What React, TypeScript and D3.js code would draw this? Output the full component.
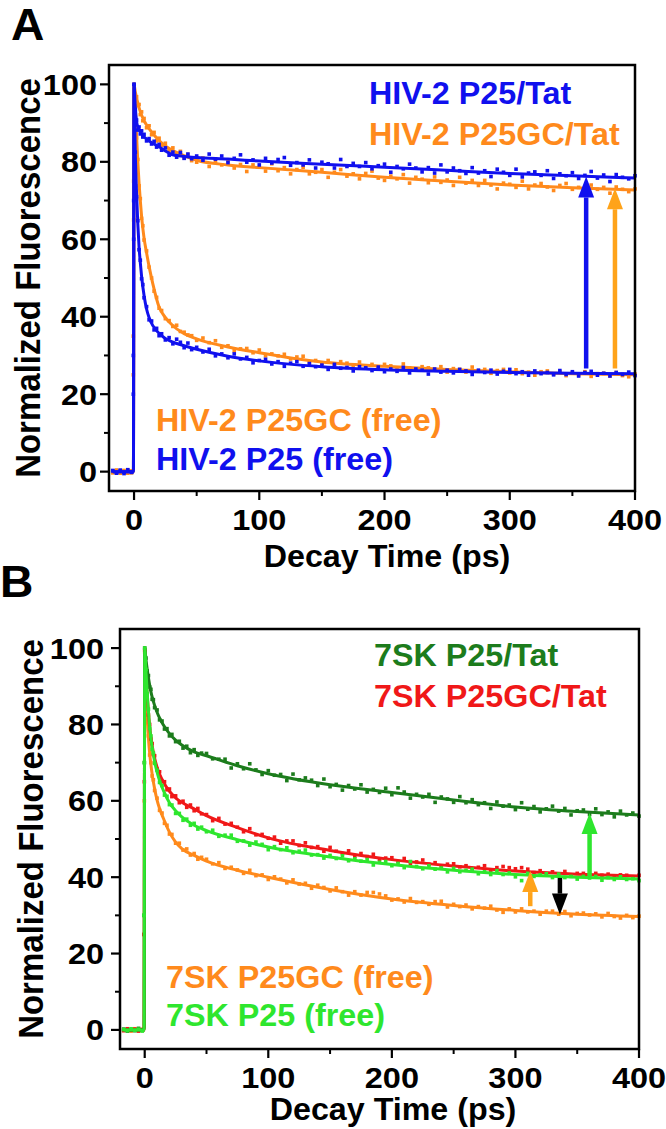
import React from 'react';
import * as d3 from 'd3';

// ---------- shared time grid of the measured points (ps) ----------
const T = [-17, -14, -11, -8, -5, -2, -0.6, -0.3, 0, 1, 2, 3, 4, 5, 6, 7, 8, 10, 12, 14, 16, 18, 20, 22, 25, 28, 31, 34, 37, 40, 43, 46,
  50, 55, 60, 65, 70, 75, 80, 85, 90, 95, 100, 105, 110, 115, 120, 125, 130, 135, 140, 145, 150, 155, 160, 165, 170, 175, 180, 185, 190, 195,
  200, 205, 210, 215, 220, 225, 230, 235, 240, 245, 250, 255, 260, 265, 270, 275, 280, 285, 290, 295, 300, 305, 310, 315, 320, 325, 330, 335,
  340, 345, 350, 355, 360, 365, 370, 375, 380, 385, 390, 395, 400];

// ---------- fit curve time grid ----------
const fitT = [-17, -0.5, 0, 1, 2, 3, 4, 5, 6, 8, 10, 12, 15, 20, 25, 30, 40, 50, 75, 100, 150, 200, 250, 300, 350, 400];

// ---------- panel A: HIV-2 ----------
const hivP25TatPts = [0.3, -0.4, 0.2, -0.2, 0.5, -0.1, 30, 70, 100,
  93.5, 90.8, 88.2, 89.0, 87.2, 88.0, 86.4, 87.1, 85.4, 86.0, 84.6, 85.3, 83.8, 84.5, 83.0, 83.6, 81.7, 82.5, 81.2, 82.4, 80.9, 82.0, 80.8,
  81.5, 80.4, 82.0, 80.7, 81.5, 79.8, 80.9, 81.8, 79.9, 80.5, 79.2, 80.9, 79.7, 80.6, 81.1, 79.1, 79.8, 79.2, 80.5, 78.4,
  79.9, 79.5, 78.4, 80.6, 78.8, 79.6, 78.8, 79.8, 78.2, 79.0, 79.4, 77.3, 78.8, 78.2, 79.4, 78.4, 77.4, 78.5, 77.1, 79.2,
  77.4, 78.4, 77.7, 77.0, 78.5, 77.1, 77.7, 76.2, 78.1, 77.3, 76.5, 78.1, 76.1, 77.1, 77.4, 76.5, 77.7, 75.7, 76.9, 76.4,
  77.2, 75.7, 76.5, 77.5, 75.8, 76.6, 74.9, 76.7, 76.0, 75.6, 76.4];
const hivP25GCTatPts = [-0.3, 0.4, -0.1, 0.3, -0.4, 0.2, 25, 65, 99,
  97.2, 96.8, 94.5, 94.8, 92.2, 92.9, 90.6, 91.2, 88.8, 89.3, 87.0, 87.6, 85.4, 86.1, 84.2, 84.8, 82.9, 83.6, 81.8, 82.7, 81.0, 81.9, 80.3,
  79.9, 81.0, 78.8, 80.0, 79.2, 80.2, 78.4, 79.3, 77.5, 79.2, 78.6, 77.6, 79.5, 77.7, 78.5, 76.9, 78.0, 78.6, 76.9, 77.3,
  78.0, 76.0, 77.3, 78.0, 76.3, 76.9, 75.6, 77.0, 77.6, 75.8, 75.2, 76.3, 75.6, 76.7, 74.5, 76.0, 75.5, 74.6, 76.1, 74.7,
  75.3, 73.9, 76.0, 74.5, 75.2, 73.9, 75.2, 74.0, 73.0, 74.5, 74.2, 73.4, 75.0, 73.0, 74.0, 74.4, 73.5, 72.6, 73.9, 74.4,
  72.9, 73.4, 72.5, 74.0, 72.9, 73.4, 71.9, 73.5, 72.9, 72.3, 73.0];
const hivP25FreePts = [0.2, -0.3, 0.4, -0.5, 0.1, -0.2, 20, 60, 100,
  82.5, 71.0, 64.8, 57.3, 54.6, 49.8, 48.3, 44.9, 42.6, 39.2, 38.9, 36.6, 37.0, 35.1, 35.6, 34.0, 34.6, 33.0, 34.2, 33.4, 32.0, 33.2, 31.5,
  32.1, 30.9, 31.6, 29.9, 30.4, 29.4, 30.4, 29.1, 29.5, 28.1, 28.7, 29.0, 27.8, 28.4, 27.2, 28.0, 28.4, 27.2, 27.9, 27.1,
  27.5, 26.4, 27.7, 26.7, 26.9, 26.0, 27.1, 26.8, 26.1, 27.0, 25.8, 26.5, 25.9, 26.9, 25.5, 26.5, 26.2, 25.2, 26.5, 25.7,
  26.2, 25.5, 26.4, 26.0, 25.1, 26.2, 25.6, 26.2, 25.2, 25.9, 26.4, 25.3, 25.8, 24.9, 26.0, 25.3, 25.6, 25.0, 26.1, 25.1,
  25.8, 24.7, 25.6, 25.9, 24.9, 25.4, 24.7, 25.6, 25.1, 25.7, 24.8];
const hivP25GCFreePts = [-0.2, 0.3, -0.4, 0.1, 0.4, -0.3, 35, 75, 100,
  94.5, 86.2, 80.6, 73.8, 70.5, 65.4, 63.5, 59.8, 57.0, 52.8, 50.0, 46.6, 45.0, 42.2, 41.6, 39.5, 39.0, 37.5, 37.8, 36.2, 36.0, 35.3, 35.1,
  33.9, 34.5, 33.3, 33.8, 32.1, 32.5, 31.2, 31.7, 31.8, 30.7, 31.4, 29.9, 30.4, 29.9, 30.3, 29.1, 29.6, 29.8, 28.2, 28.7,
  28.0, 28.7, 27.3, 28.4, 28.0, 27.3, 28.3, 27.3, 27.7, 26.7, 27.7, 27.3, 26.6, 27.8, 26.8, 26.2, 27.1, 26.8, 26.3, 27.1,
  25.7, 26.6, 26.4, 25.7, 27.0, 25.9, 26.4, 25.4, 26.1, 26.4, 25.5, 26.3, 25.3, 25.7, 24.9, 25.8, 26.0, 25.2, 25.8, 24.8,
  25.5, 25.0, 25.8, 24.6, 25.3, 25.4, 24.7, 25.6, 24.8, 24.5, 25.2];

const hivP25TatFit = [0, 0, 100, 94, 90.5, 89, 88.3, 87.8, 87.3, 86.5, 85.9, 85.4, 84.8, 83.9, 82.8, 81.9, 81.4, 81.1, 80.7, 80.2, 79.4, 78.6, 77.8, 77.0, 76.4, 75.8];
const hivP25GCTatFit = [0, 0, 100, 98, 96.5, 95.2, 94, 93, 92.1, 90.6, 89.5, 88.6, 87.3, 85.5, 84.1, 83.1, 81.6, 80.4, 79.2, 78.5, 77.3, 76.0, 75.0, 74.0, 73.3, 72.7];
const hivP25FreeFit = [0, 0, 100, 82, 72, 64, 58, 54, 50.5, 45.5, 42, 39.8, 37.7, 35.7, 34.4, 33.6, 32.5, 31.6, 29.8, 28.6, 27.1, 26.3, 25.9, 25.6, 25.4, 25.3];
const hivP25GCFreeFit = [0, 0, 100, 94, 87, 80, 74.5, 70, 66, 60.3, 56.5, 53, 48.5, 42.5, 39.8, 38.0, 35.6, 34.3, 32.2, 30.7, 28.3, 27.2, 26.4, 25.8, 25.3, 25.0];

// ---------- panel B: 7SK ----------
const sk7P25TatPts = [0.2, -0.3, 0.1, -0.2, 0.4, -0.1, 30, 70, 100,
  97.4, 94.0, 92.8, 89.8, 89.2, 86.6, 86.5, 84.4, 83.8, 81.2, 80.9, 78.8, 78.9, 77.0, 77.4, 75.5, 75.6, 73.8, 74.3, 72.6, 73.4, 71.9, 72.5,
  72.4, 71.0, 70.9, 70.9, 68.6, 69.7, 68.4, 69.7, 68.1, 66.9, 67.9, 66.7, 66.9, 65.3, 67.0, 65.5, 66.0, 65.4, 64.0, 65.7,
  63.7, 64.3, 62.8, 64.0, 63.1, 64.2, 62.3, 63.0, 62.2, 63.3, 61.6, 63.4, 62.3, 60.7, 61.7, 61.0, 61.7, 59.6, 61.0, 60.5,
  59.6, 61.1, 59.5, 60.3, 59.0, 59.5, 58.0, 59.7, 58.6, 58.9, 57.7, 59.5, 57.8, 58.5, 57.1, 57.9, 58.6, 57.3, 58.0, 56.3,
  57.4, 57.6, 56.4, 57.9, 56.4, 57.1, 55.8, 57.3, 56.3, 56.8, 56.0];
const sk7P25GCTatPts = [-0.2, 0.3, -0.1, 0.2, -0.3, 0.1, 25, 65, 99.5,
  92.6, 88.0, 82.5, 80.0, 76.2, 75.0, 72.2, 71.8, 68.3, 67.6, 65.1, 65.0, 62.9, 63.1, 61.1, 61.3, 59.5, 59.9, 58.3, 58.9, 57.4, 58.0, 56.6,
  56.4, 54.8, 55.4, 53.9, 54.1, 53.1, 51.9, 52.7, 51.1, 51.2, 50.2, 50.5, 48.9, 49.5, 49.5, 48.3, 49.0, 47.8, 48.0, 46.8,
  47.8, 46.8, 46.2, 46.9, 45.4, 46.2, 45.4, 46.0, 44.7, 45.0, 45.1, 44.1, 44.9, 43.6, 44.0, 44.5, 43.4, 43.8, 42.6, 43.4,
  43.5, 42.7, 43.0, 42.0, 42.6, 43.0, 41.8, 42.5, 42.8, 42.5, 42.2, 42.5, 42.1, 41.2, 41.7, 40.7, 41.4, 40.8, 41.5, 40.5,
  41.0, 41.0, 40.2, 41.0, 40.5, 40.8, 40.1, 40.6, 40.5, 40.0, 40.5];
const sk7P25FreePts = [0.1, -0.2, 0.3, -0.1, 0.2, -0.3, 30, 70, 100,
  94.4, 88.0, 84.0, 79.0, 77.0, 73.5, 72.5, 69.8, 68.0, 64.8, 64.0, 61.5, 61.2, 59.0, 58.9, 56.7, 56.7, 54.9, 55.2, 53.6, 54.1, 52.6, 53.1,
  51.9, 52.3, 50.7, 51.0, 51.0, 49.4, 49.5, 48.4, 49.2, 48.6, 47.2, 48.0, 47.2, 47.7, 46.4, 46.8, 47.1, 45.8, 45.9, 45.0,
  45.7, 44.9, 45.6, 44.3, 44.8, 44.2, 44.6, 43.2, 43.9, 44.1, 43.0, 43.6, 42.5, 44.1, 42.8, 42.2, 43.0, 42.1, 42.4, 41.4,
  42.3, 41.4, 41.8, 42.1, 40.9, 41.4, 40.7, 41.7, 40.7, 41.1, 40.1, 39.1, 41.0, 40.2, 40.6, 40.9, 39.9, 40.8, 39.9, 40.2,
  39.5, 40.2, 39.8, 40.2, 39.2, 39.9, 39.4, 40.1, 39.4, 39.6, 39.1];
const sk7P25GCFreePts = [-0.1, 0.2, -0.3, 0.3, -0.2, 0.1, 25, 60, 99,
  90.5, 81.6, 77.0, 72.0, 70.0, 66.5, 65.5, 62.7, 60.7, 57.5, 56.8, 54.1, 53.6, 51.3, 51.2, 48.9, 48.9, 47.1, 47.4, 45.8, 46.2, 44.7, 45.2,
  44.7, 43.5, 43.8, 42.3, 42.6, 41.9, 41.0, 41.8, 40.4, 40.6, 39.4, 40.1, 39.5, 38.5, 39.3, 38.2, 38.4, 37.1, 37.9, 37.3,
  36.4, 37.2, 36.2, 35.3, 36.2, 35.3, 36.0, 36.0, 35.6, 35.1, 34.0, 34.3, 33.5, 34.4, 33.4, 33.6, 32.9, 33.6, 33.7, 32.2,
  32.9, 32.3, 32.7, 31.7, 32.3, 31.9, 32.4, 31.4, 30.8, 31.7, 30.9, 31.7, 30.9, 31.1, 30.3, 31.1, 31.1, 30.3, 31.0, 29.9,
  30.5, 30.6, 30.1, 30.4, 29.6, 30.5, 29.7, 29.3, 30.0, 29.4, 29.8];

const sk7P25TatFit = [0, 0, 100, 97, 94.5, 92.3, 90.3, 88.6, 87.2, 85, 83.2, 81.7, 79.9, 77.6, 75.9, 74.6, 72.8, 71.8, 69.2, 67.1, 64.2, 62.2, 60.2, 58.4, 57.2, 56.3];
const sk7P25GCTatFit = [0, 0, 100, 93, 87.5, 83, 79.5, 76.7, 74.5, 71.2, 68.8, 67, 65, 62.5, 60.8, 59.6, 57.9, 56.1, 53.0, 50.3, 47.0, 44.6, 42.9, 41.6, 40.8, 40.3];
const sk7P25FreeFit = [0, 0, 100, 94, 88.5, 83.5, 79.5, 76.5, 74, 70.3, 67.5, 65.3, 62.8, 59.5, 57.4, 55.8, 53.6, 52.2, 49.8, 47.9, 45.3, 43.3, 41.8, 40.7, 40.0, 39.5];
const sk7P25GCFreeFit = [0, 0, 100, 90, 82, 76.5, 72.5, 69.5, 67, 63.2, 60.2, 58, 55.5, 51.8, 49.2, 47.5, 45.7, 44.2, 41.8, 40.0, 36.8, 34.3, 32.6, 31.3, 30.3, 29.7];

// ---------- axes ----------
const xTicks = [0, 100, 200, 300, 400];
const xMinor = [50, 150, 250, 350];
const yTicks = [0, 20, 40, 60, 80, 100];
const yMinor = [10, 30, 50, 70, 90];

// ---------- arrows (time, from value, to value) ----------
const arrowsA = [
  { t: 361, from: 26.6, to: 76.2, color: '#1010ee' },
  { t: 384, from: 26.6, to: 73.2, color: '#ffa31a' },
];
const arrowsB = [
  { t: 360, from: 40.3, to: 56.8, color: '#2ee62e' },
  { t: 312, from: 32.4, to: 41.6, color: '#ffa31a' },
  { t: 336, from: 39.8, to: 30.2, color: '#000000' },
];

const BLUE = '#1010ee';
const ORANGE = '#ff8a1c';
const DKGREEN = '#1c7c1c';
const RED = '#f01818';
const GREEN = '#2ee62e';

const FONT = "'Liberation Sans', Arial, Helvetica, sans-serif";

type Series = { pts: number[]; fit: number[]; color: string };
type Legend = { text: string; x: number; y: number; color: string };
type Arrow = { t: number; from: number; to: number; color: string };

function SText(props: { x: number; y: number; size: number; sx: number; anchor?: string; fill?: string; children: any }) {
  return (
    <text transform={`translate(${props.x},${props.y}) scale(${props.sx},1)`} textAnchor={props.anchor || 'start'}
      fill={props.fill || '#000'} fontFamily={FONT} fontWeight="bold" fontSize={props.size}>{props.children}</text>
  );
}

function Panel(props: {
  left: number; right: number; top: number; bottom: number;
  series: Series[]; arrows: Arrow[]; legends: Legend[];
  letter: string; letterX: number; letterY: number;
  yLabelRight: number; yTitleX: number; xTitleX: number; xTitleY: number;
}) {
  const { left, right, top, bottom } = props;
  const x = d3.scaleLinear().domain([-20, 400]).range([left, right]);
  const y = d3.scaleLinear().domain([-5, 105]).range([bottom, top]);
  const line = d3.line<[number, number]>().x(d => x(d[0])).y(d => y(d[1])).curve(d3.curveMonotoneX);
  const midY = (top + bottom) / 2;
  return (
    <g>
      <SText x={props.letterX} y={props.letterY} size={44} sx={1.05}>{props.letter}</SText>
      {props.series.map((s, i) => {
        const n = Math.min(s.pts.length, T.length);
        const pts = [] as [number, number][];
        for (let k = 0; k < n; k++) pts.push([T[k], s.pts[k]]);
        const fitPts = fitT.map((t, k) => [t, s.fit[k]] as [number, number]);
        return (
          <g key={i}>
            {pts.map((p, k) => (
              <rect key={k} x={x(p[0]) - 1.8} y={y(p[1]) - 1.8} width={3.6} height={3.6} fill={s.color} />
            ))}
            <path d={line(fitPts) || ''} fill="none" stroke={s.color} strokeWidth={3} strokeLinejoin="round" />
          </g>
        );
      })}
      {props.arrows.map((a, i) => {
        const ax = x(a.t);
        const tip = y(a.to);
        const base = y(a.from);
        const up = a.to > a.from;
        const headLen = 21;
        const hb = up ? tip + headLen : tip - headLen;
        return (
          <g key={i}>
            <line x1={ax} x2={ax} y1={base} y2={hb} stroke={a.color} strokeWidth={4.5} />
            <polygon points={`${ax},${tip} ${ax - 8},${hb} ${ax + 8},${hb}`} fill={a.color} />
          </g>
        );
      })}
      <rect x={left} y={top} width={right - left} height={bottom - top} fill="none" stroke="#000" strokeWidth={2.5} />
      {xTicks.map(t => (
        <g key={'xt' + t}>
          <line x1={x(t)} x2={x(t)} y1={bottom} y2={bottom + 9} stroke="#000" strokeWidth={2.2} />
          <SText x={x(t)} y={bottom + 39} size={29} sx={1.12} anchor="middle">{t}</SText>
        </g>
      ))}
      {xMinor.map(t => (
        <line key={'xm' + t} x1={x(t)} x2={x(t)} y1={bottom} y2={bottom + 5} stroke="#000" strokeWidth={2} />
      ))}
      {yTicks.map(t => (
        <g key={'yt' + t}>
          <line x1={left - 9} x2={left} y1={y(t)} y2={y(t)} stroke="#000" strokeWidth={2.2} />
          <SText x={props.yLabelRight} y={y(t) + 10.5} size={29} sx={1.12} anchor="end">{t}</SText>
        </g>
      ))}
      {yMinor.map(t => (
        <line key={'ym' + t} x1={left - 5} x2={left} y1={y(t)} y2={y(t)} stroke="#000" strokeWidth={2} />
      ))}
      {props.legends.map((l, i) => (
        <SText key={i} x={l.x} y={l.y} size={30.5} sx={1.06} fill={l.color}>{l.text}</SText>
      ))}
      <SText x={props.xTitleX} y={props.xTitleY} size={31} sx={1.04} anchor="middle">Decay Time (ps)</SText>
      <text transform={`translate(${props.yTitleX},${midY}) rotate(-90) scale(1,1.05)`} textAnchor="middle" fontFamily={FONT} fontWeight="bold" fontSize={33}>Normalized Fluorescence</text>
    </g>
  );
}

export default function App() {
  const seriesA: Series[] = [
    { pts: hivP25GCTatPts, fit: hivP25GCTatFit, color: ORANGE },
    { pts: hivP25GCFreePts, fit: hivP25GCFreeFit, color: ORANGE },
    { pts: hivP25TatPts, fit: hivP25TatFit, color: BLUE },
    { pts: hivP25FreePts, fit: hivP25FreeFit, color: BLUE },
  ];
  const seriesB: Series[] = [
    { pts: sk7P25GCFreePts, fit: sk7P25GCFreeFit, color: ORANGE },
    { pts: sk7P25GCTatPts, fit: sk7P25GCTatFit, color: RED },
    { pts: sk7P25TatPts, fit: sk7P25TatFit, color: DKGREEN },
    { pts: sk7P25FreePts, fit: sk7P25FreeFit, color: GREEN },
  ];
  const legendsA: Legend[] = [
    { text: 'HIV-2 P25/Tat', x: 369, y: 104, color: BLUE },
    { text: 'HIV-2 P25GC/Tat', x: 369, y: 145, color: ORANGE },
    { text: 'HIV-2 P25GC (free)', x: 156, y: 431, color: ORANGE },
    { text: 'HIV-2 P25 (free)', x: 156, y: 470, color: BLUE },
  ];
  const legendsB: Legend[] = [
    { text: '7SK P25/Tat', x: 374, y: 666, color: DKGREEN },
    { text: '7SK P25GC/Tat', x: 374, y: 707, color: RED },
    { text: '7SK P25GC (free)', x: 166, y: 988, color: ORANGE },
    { text: '7SK P25 (free)', x: 166, y: 1026, color: GREEN },
  ];
  return (
    <svg width={666} height={1129} style={{ position: 'absolute', left: 0, top: 0, background: '#fff' }}>
      <rect x={0} y={0} width={666} height={1129} fill="#fff" />
      <Panel left={109} right={635} top={65} bottom={491} series={seriesA} arrows={arrowsA} legends={legendsA}
        letter="A" letterX={11} letterY={40} yLabelRight={97} yTitleX={40} xTitleX={387} xTitleY={567} />
      <Panel left={120} right={639} top={629} bottom={1049} series={seriesB} arrows={arrowsB} legends={legendsB}
        letter="B" letterX={0} letterY={597} yLabelRight={104} yTitleX={43} xTitleX={393} xTitleY={1120} />
    </svg>
  );
}
